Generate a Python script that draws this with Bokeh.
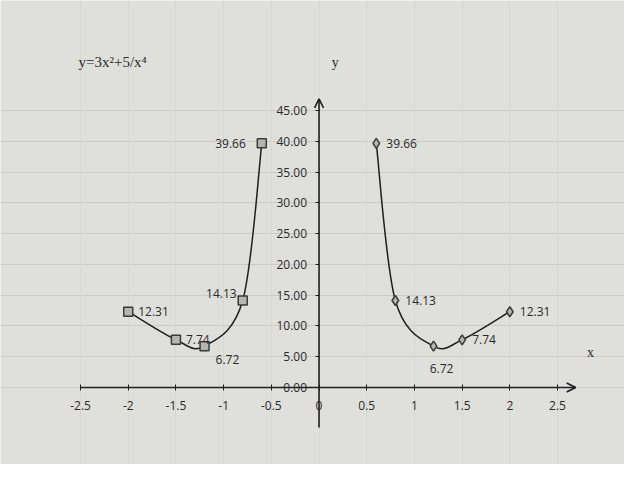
from bokeh.plotting import figure
from bokeh.models import (LinearAxis, Grid, FixedTicker, PrintfTickFormatter, Range1d,
                          Arrow, OpenHead, Label, ColumnDataSource)
from bokeh.embed import file_html
from bokeh.resources import INLINE

# ---- data ----
left_x = [-2.0, -1.5, -1.2, -0.8, -0.6]
left_y = [12.31, 7.74, 6.72, 14.13, 39.66]
right_x = [0.6, 0.8, 1.2, 1.5, 2.0]
right_y = [39.66, 14.13, 6.72, 7.74, 12.31]
x_ticks = [-2.5, -2.0, -1.5, -1.0, -0.5, 0.0, 0.5, 1.0, 1.5, 2.0, 2.5]
x_tick_labels = ["-2.5", "-2", "-1.5", "-1", "-0.5", "0", "0.5", "1", "1.5", "2", "2.5"]
y_ticks = [0, 5, 10, 15, 20, 25, 30, 35, 40, 45]
title_text = "y=3x\u00b2+5/x\u2074"

# ---- label styles (offsets) ----
left_xoff = [10, 10, 11, -6, -16]
left_yoff = [0, 0, 13, -7, 0]
left_align = ["left", "left", "left", "right", "right"]
right_xoff = [10, 10, 8, 10, 10]
right_yoff = [0, 0, 22, 0, 0]
right_align = ["left", "left", "center", "left", "left"]

BG = "#dfe0dc"
INK = "#1f1f1f"
FONT = "Open Sans"

p = figure(width=624, height=464, output_backend="svg", toolbar_location=None,
           x_axis_type=None, y_axis_type=None,
           x_range=Range1d(-3.339, 3.202), y_range=Range1d(-12.51, 62.87),
           min_border=0, background_fill_color=BG, border_fill_color=BG,
           outline_line_color=None)

# grids
p.add_layout(Grid(dimension=1, ticker=FixedTicker(ticks=y_ticks), bounds=(-2.5, 2.5),
                  grid_line_color="#cacbc7", grid_line_width=1))
p.add_layout(Grid(dimension=0, ticker=FixedTicker(ticks=x_ticks), bounds=(0, 45),
                  grid_line_color="#d6d7d3", grid_line_width=1))

# axes at zero
yax = LinearAxis(fixed_location=0, ticker=FixedTicker(ticks=y_ticks),
                 formatter=PrintfTickFormatter(format="%.2f"))
yax.axis_line_color = None
yax.major_tick_line_color = INK
yax.major_tick_in = 0
yax.major_tick_out = 4
yax.minor_tick_line_color = None
yax.major_label_text_font = FONT
yax.major_label_text_font_size = "12px"
yax.major_label_text_color = "#2a2a2a"
yax.major_label_standoff = 8
p.add_layout(yax, "left")

xax = LinearAxis(fixed_location=0, ticker=FixedTicker(ticks=x_ticks),
                 major_label_overrides={t: s for t, s in zip(x_ticks, x_tick_labels)})
xax.axis_line_color = None
xax.major_tick_line_color = INK
xax.major_tick_in = 3
xax.major_tick_out = 3
xax.minor_tick_line_color = None
xax.major_label_text_font = FONT
xax.major_label_text_font_size = "12px"
xax.major_label_text_color = "#2a2a2a"
xax.major_label_standoff = 11
p.add_layout(xax, "below")

# axis lines with arrow heads
p.add_layout(Arrow(end=OpenHead(size=9, line_color=INK, line_width=1.6),
                   x_start=-2.5, y_start=0, x_end=2.69, y_end=0,
                   line_color=INK, line_width=1.6))
p.add_layout(Arrow(end=OpenHead(size=9, line_color=INK, line_width=1.6),
                   x_start=0, y_start=-6.5, x_end=0, y_end=46.9,
                   line_color=INK, line_width=1.6))


def smooth_segments(xs, ys):
    n = len(xs)
    x0, y0, x1, y1, cx0, cy0, cx1, cy1 = [], [], [], [], [], [], [], []
    for i in range(n - 1):
        ip = max(i - 1, 0)
        inn = min(i + 2, n - 1)
        x0.append(xs[i]); y0.append(ys[i])
        x1.append(xs[i + 1]); y1.append(ys[i + 1])
        cx0.append(xs[i] + (xs[i + 1] - xs[ip]) / 6.0)
        cy0.append(ys[i] + (ys[i + 1] - ys[ip]) / 6.0)
        cx1.append(xs[i + 1] - (xs[inn] - xs[i]) / 6.0)
        cy1.append(ys[i + 1] - (ys[inn] - ys[i]) / 6.0)
    return dict(x0=x0, y0=y0, x1=x1, y1=y1, cx0=cx0, cy0=cy0, cx1=cx1, cy1=cy1)


for xs, ys in ((left_x, left_y), (right_x, right_y)):
    src = ColumnDataSource(smooth_segments(xs, ys))
    p.bezier(x0="x0", y0="y0", x1="x1", y1="y1", cx0="cx0", cy0="cy0", cx1="cx1", cy1="cy1",
             source=src, line_color=INK, line_width=1.5)

p.scatter(left_x, left_y, marker="square", size=9, fill_color="#b5b6b2",
          line_color="#3a3a3a", line_width=1.5)
p.scatter(right_x, right_y, marker="diamond", size=10, fill_color="#b5b6b2",
          line_color="#3a3a3a", line_width=1.5)

lsrc = ColumnDataSource(dict(x=left_x, y=left_y, t=["%.2f" % v for v in left_y],
                             xo=left_xoff, yo=left_yoff, al=left_align))
rsrc = ColumnDataSource(dict(x=right_x, y=right_y, t=["%.2f" % v for v in right_y],
                             xo=right_xoff, yo=right_yoff, al=right_align))
for s in (lsrc, rsrc):
    p.text(x="x", y="y", text="t", source=s, x_offset="xo", y_offset="yo",
           text_align="al", text_baseline="middle", text_font_size="12px",
           text_color="#2a2a2a", text_font={"value": FONT})

p.add_layout(Label(x=-2.521, y=52.8, text=title_text, text_font="Liberation Serif",
                   text_font_size="15px", text_color="#2a2a2a", text_baseline="middle"))
p.add_layout(Label(x=0.17, y=52.8, text="y", text_font="Liberation Serif",
                   text_font_size="14px", text_color="#2a2a2a", text_baseline="middle",
                   text_align="center"))
p.add_layout(Label(x=2.846, y=5.7, text="x", text_font="Liberation Serif",
                   text_font_size="14px", text_color="#2a2a2a", text_baseline="middle",
                   text_align="center"))

open("out.html", "w").write(file_html(p, INLINE))
